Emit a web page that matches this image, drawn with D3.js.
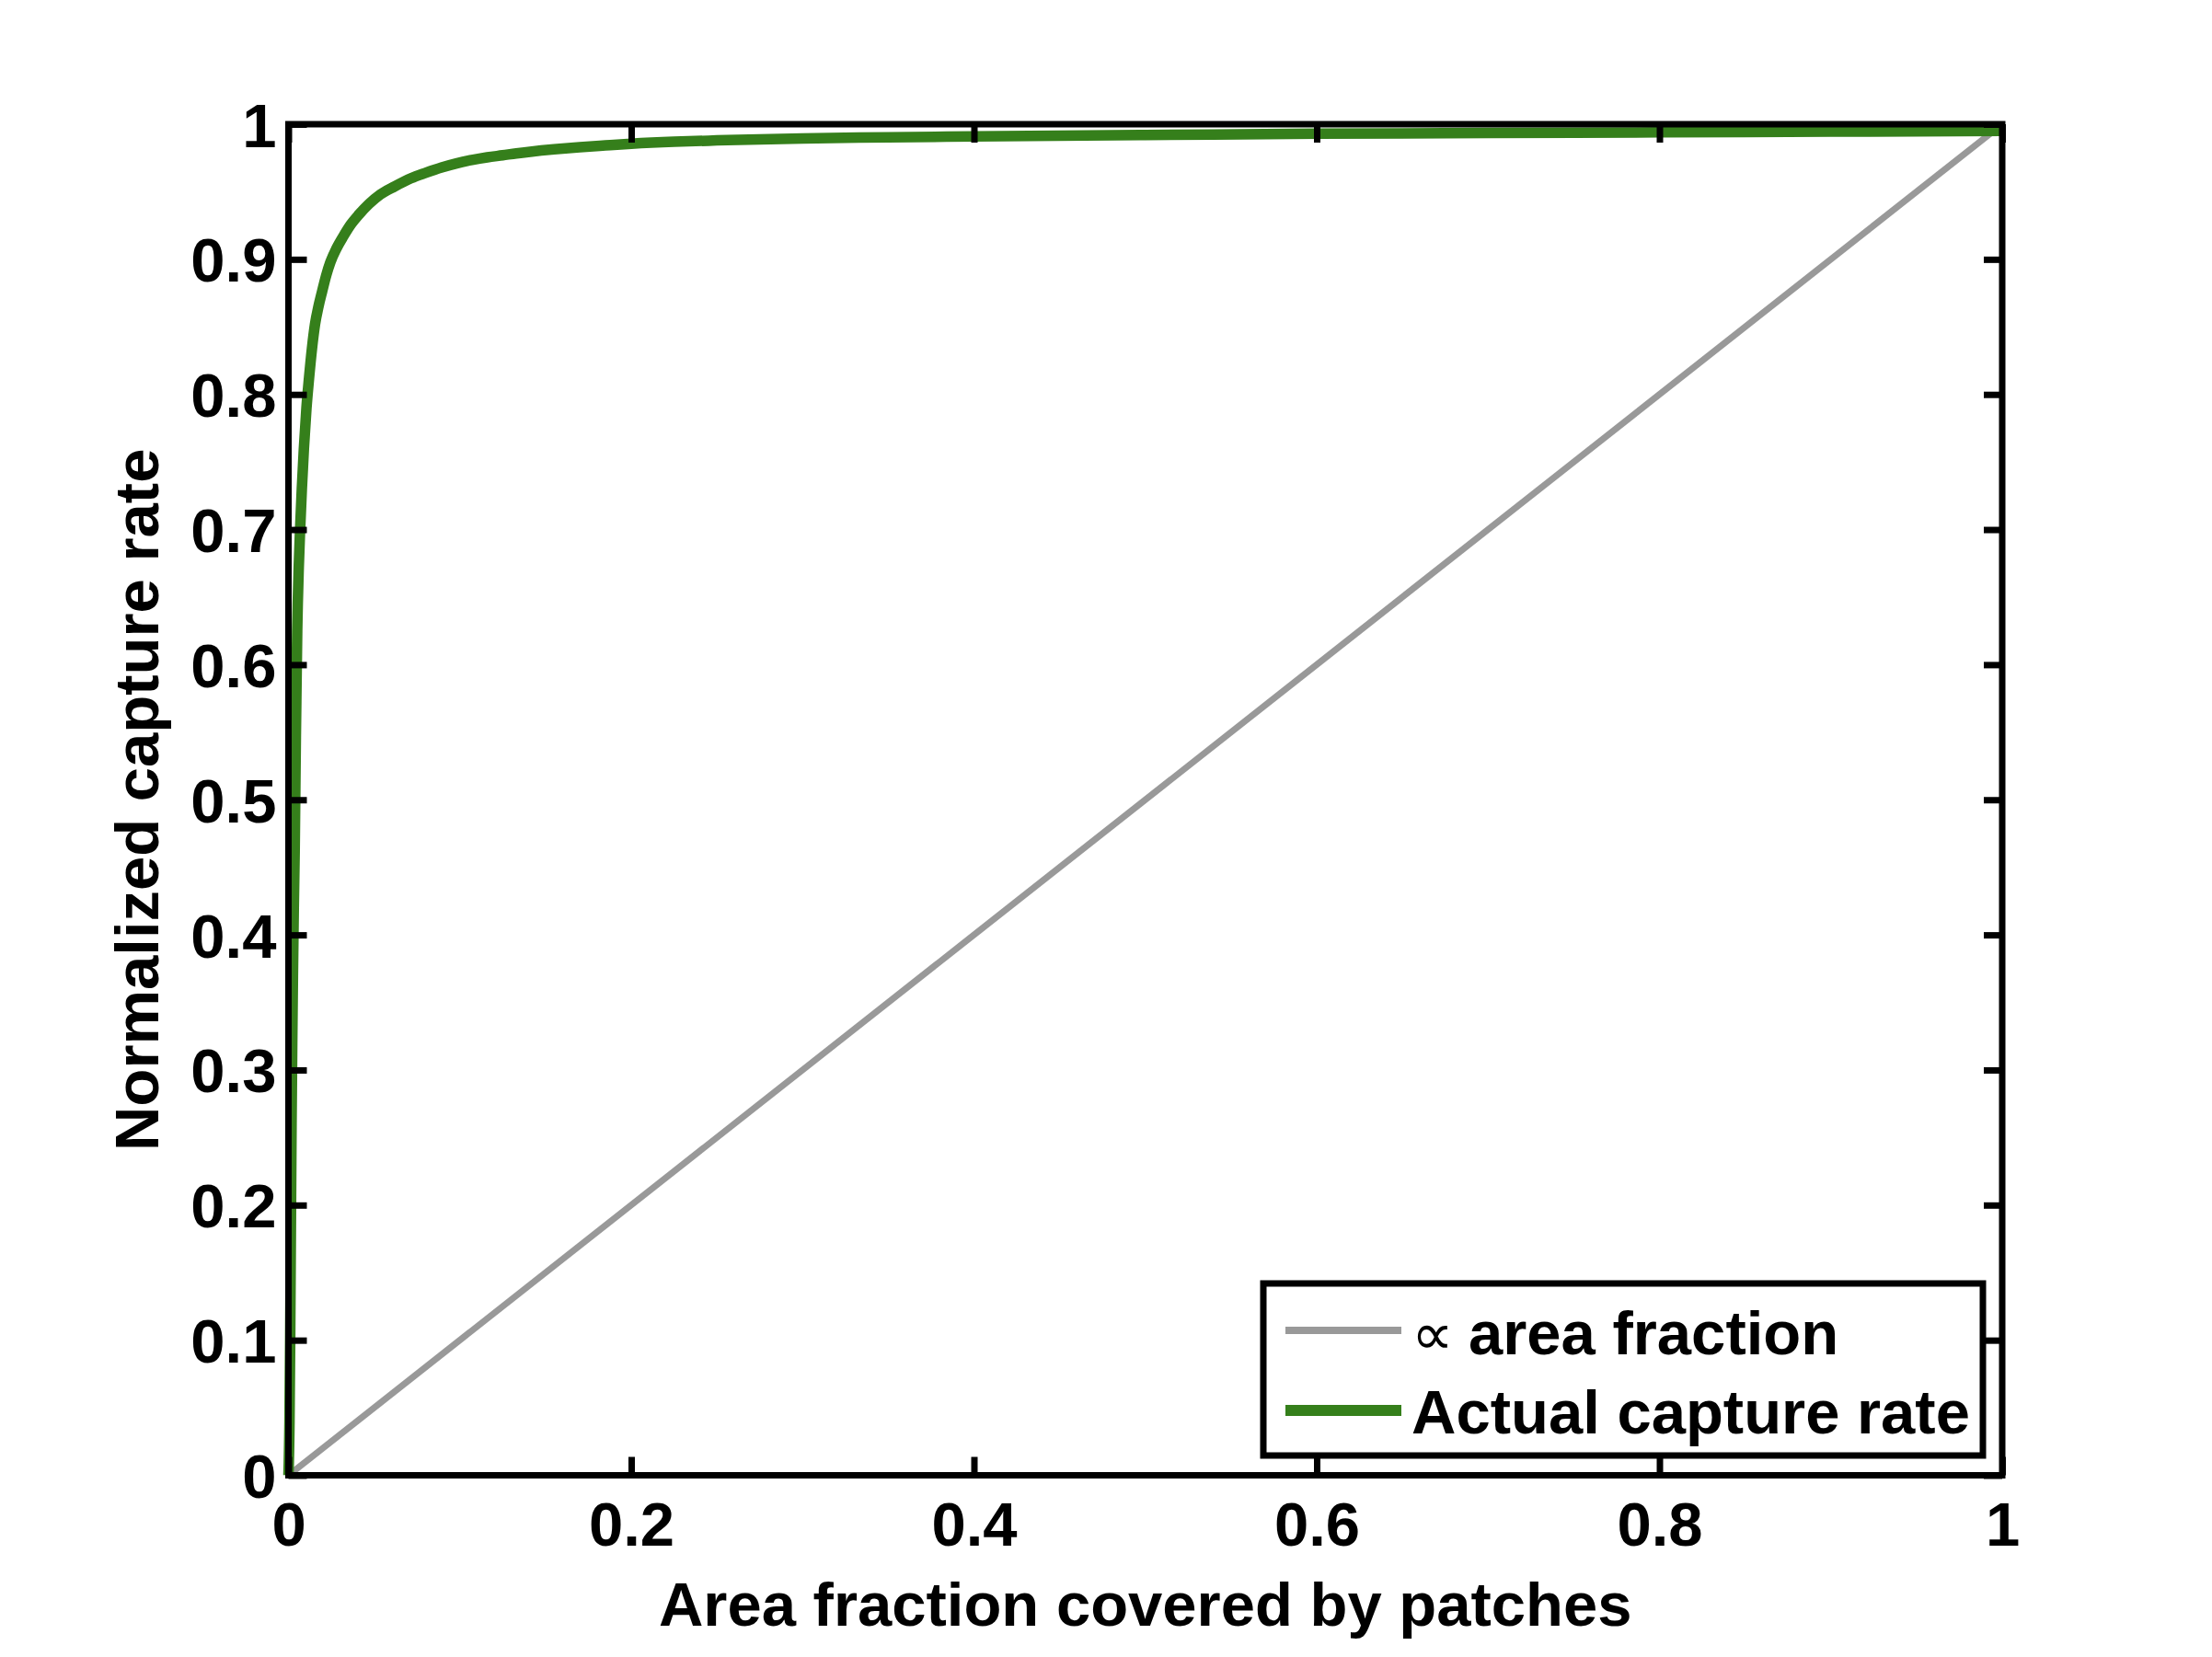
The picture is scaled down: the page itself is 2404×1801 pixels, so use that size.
<!DOCTYPE html>
<html>
<head>
<meta charset="utf-8">
<script src="https://cdn.jsdelivr.net/npm/d3@7"></script>
<style>
  html, body { margin: 0; padding: 0; background: #ffffff; }
  svg { display: block; }
  text { font-family: "Liberation Sans", Arial, Helvetica, sans-serif; font-weight: bold; fill: #000; }
</style>
</head>
<body>
<svg id="chart" width="2404" height="1801"></svg>
<script>
// ---- Data ----
const captureX = [0, 0.0006, 0.0010, 0.0014, 0.0018, 0.0022, 0.0026, 0.0031, 0.0036, 0.0043, 0.0051, 0.0060, 0.0068, 0.0078, 0.0090, 0.0105, 0.0120, 0.0138, 0.0155, 0.0175, 0.0196, 0.0220, 0.0245, 0.0280, 0.0320, 0.0365, 0.0410, 0.0470, 0.0536, 0.0620, 0.0715, 0.0800, 0.0894, 0.0980, 0.107, 0.116, 0.125, 0.133, 0.141, 0.155, 0.170, 0.185, 0.200, 0.225, 0.250, 0.300, 0.350, 0.400, 0.500, 0.600, 0.700, 0.800, 0.900, 1.000];
const captureY = [0, 0.04, 0.10, 0.18, 0.26, 0.32, 0.37, 0.42, 0.46, 0.546, 0.625, 0.672, 0.700, 0.730, 0.760, 0.790, 0.812, 0.835, 0.852, 0.865, 0.876, 0.888, 0.898, 0.908, 0.917, 0.926, 0.933, 0.941, 0.948, 0.954, 0.960, 0.964, 0.968, 0.971, 0.9735, 0.9755, 0.977, 0.9784, 0.9796, 0.9814, 0.983, 0.9843, 0.9855, 0.987, 0.988, 0.9895, 0.9903, 0.991, 0.992, 0.993, 0.9935, 0.994, 0.9945, 0.995];
const proportionalX = [0, 1];
const proportionalY = [0, 1];
const xTickValues = [0, 0.2, 0.4, 0.6, 0.8, 1];
const xTickLabels = ["0", "0.2", "0.4", "0.6", "0.8", "1"];
const yTickValues = [0, 0.1, 0.2, 0.3, 0.4, 0.5, 0.6, 0.7, 0.8, 0.9, 1];
const yTickLabels = ["0", "0.1", "0.2", "0.3", "0.4", "0.5", "0.6", "0.7", "0.8", "0.9", "1"];
const legendLabels = ["area fraction", "Actual capture rate"];
const xAxisTitle = "Area fraction covered by patches";
const yAxisTitle = "Normalized capture rate";

// ---- Layout ----
const plot = { left: 313.5, right: 2176, top: 135, bottom: 1603.5 };
const green = "#357f1b";
const gray = "#999999";
const fontSize = 67;

const svg = d3.select("#chart");
svg.append("rect").attr("width", 2404).attr("height", 1801).attr("fill", "#fff");

const x = d3.scaleLinear().domain([0, 1]).range([plot.left, plot.right]);
const y = d3.scaleLinear().domain([0, 1]).range([plot.bottom, plot.top]);

// ---- Lines ----
const propData = proportionalX.map((v, i) => [v, proportionalY[i]]);
const capData = captureX.map((v, i) => [v, captureY[i]]);

const lineGen = d3.line().x(d => x(d[0])).y(d => y(d[1]));
const curveGen = d3.line().x(d => x(d[0])).y(d => y(d[1])).curve(d3.curveMonotoneX);

svg.append("path").datum(propData)
  .attr("d", lineGen).attr("fill", "none")
  .attr("stroke", gray).attr("stroke-width", 7);

svg.append("path").datum(capData)
  .attr("d", curveGen).attr("fill", "none")
  .attr("stroke", green).attr("stroke-width", 11.5)
  .attr("stroke-linejoin", "round");

// ---- Axes ----
const tickLen = 20;
const axisStroke = 7;

function styleAxis(g) {
  g.select(".domain").remove();
  g.selectAll(".tick line").attr("stroke", "#000").attr("stroke-width", axisStroke);
}

const fmtX = (d) => xTickLabels[xTickValues.indexOf(d)];
const fmtY = (d) => yTickLabels[yTickValues.indexOf(d)];

const gBottom = svg.append("g").attr("transform", `translate(0,${plot.bottom})`)
  .call(d3.axisBottom(x).tickValues(xTickValues).tickFormat(fmtX).tickSizeInner(-tickLen).tickSizeOuter(0));
styleAxis(gBottom);
gBottom.selectAll(".tick text")
  .attr("y", 76.5).attr("dy", null)
  .attr("font-size", fontSize).attr("font-family", null).attr("fill", "#000");

const gTop = svg.append("g").attr("transform", `translate(0,${plot.top})`)
  .call(d3.axisTop(x).tickValues(xTickValues).tickFormat("").tickSizeInner(-tickLen).tickSizeOuter(0));
styleAxis(gTop);

const gLeft = svg.append("g").attr("transform", `translate(${plot.left},0)`)
  .call(d3.axisLeft(y).tickValues(yTickValues).tickFormat(fmtY).tickSizeInner(-tickLen).tickSizeOuter(0));
styleAxis(gLeft);
gLeft.selectAll(".tick text")
  .attr("x", -13).attr("dy", 24)
  .attr("font-size", fontSize).attr("font-family", null).attr("fill", "#000");

const gRight = svg.append("g").attr("transform", `translate(${plot.right},0)`)
  .call(d3.axisRight(y).tickValues(yTickValues).tickFormat("").tickSizeInner(-tickLen).tickSizeOuter(0));
styleAxis(gRight);

// frame
svg.append("rect")
  .attr("x", plot.left).attr("y", plot.top)
  .attr("width", plot.right - plot.left).attr("height", plot.bottom - plot.top)
  .attr("fill", "none").attr("stroke", "#000").attr("stroke-width", axisStroke)
  .attr("stroke-linejoin", "miter");

// ---- Axis titles ----
svg.append("text")
  .attr("x", (plot.left + plot.right) / 2).attr("y", 1767)
  .attr("text-anchor", "middle").attr("font-size", fontSize)
  .text(xAxisTitle);

svg.append("text")
  .attr("transform", `translate(172,${(plot.top + plot.bottom) / 2}) rotate(-90)`)
  .attr("text-anchor", "middle").attr("font-size", fontSize)
  .text(yAxisTitle);

// ---- Legend ----
const leg = svg.append("g");
leg.append("rect")
  .attr("x", 1373).attr("y", 1395).attr("width", 2155 - 1373).attr("height", 1582 - 1395)
  .attr("fill", "#fff").attr("stroke", "#000").attr("stroke-width", axisStroke);

const legendItems = [
  { label: legendLabels[0], color: gray, width: 8, yLine: 1446, yText: 1472, prefix: "\u221D" },
  { label: legendLabels[1], color: green, width: 12, yLine: 1533, yText: 1558, prefix: null }
];
legendItems.forEach(it => {
  leg.append("line")
    .attr("x1", 1397).attr("x2", 1523).attr("y1", it.yLine).attr("y2", it.yLine)
    .attr("stroke", it.color).attr("stroke-width", it.width);
  const t = leg.append("text").attr("x", 1534).attr("y", it.yText).attr("font-size", fontSize);
  if (it.prefix) {
    t.append("tspan").attr("font-family", "DejaVu Sans").attr("font-weight", "normal")
      .attr("font-size", 64).text(it.prefix);
    t.append("tspan").attr("x", 1596).text(it.label);
  } else {
    t.text(it.label);
  }
});
</script>
</body>
</html>
